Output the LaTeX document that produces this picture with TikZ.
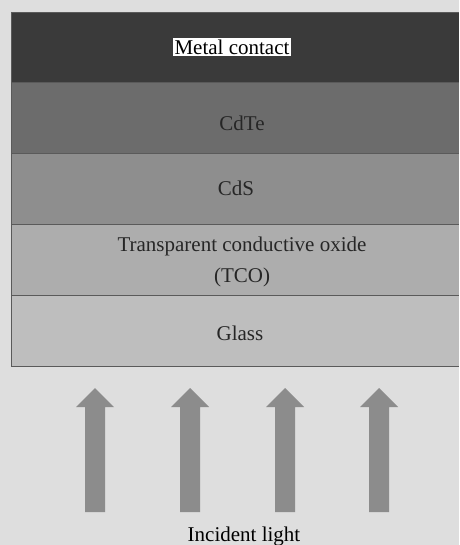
\documentclass[tikz,border=0pt]{standalone}
\usepackage{fontspec}
\setmainfont{Liberation Serif}
\usetikzlibrary{positioning}
\definecolor{bgGray}{HTML}{DEDEDE}
\definecolor{metalGray}{HTML}{3A3A3A}
\definecolor{cdteGray}{HTML}{6C6C6C}
\definecolor{cdsGray}{HTML}{8E8E8E}
\definecolor{tcoGray}{HTML}{ADADAD}
\definecolor{glassGray}{HTML}{BEBEBE}
\definecolor{lineGray}{HTML}{5A5A5A}
\definecolor{lightGray}{HTML}{8C8C8C}

\begin{document}
\begin{tikzpicture}[x=1pt, y=-1pt,
  layertext/.style={font=\fontsize{21}{31}\selectfont, text=black!85, inner sep=2pt}]
  \useasboundingbox[fill=bgGray] (0,0) rectangle (459,545);

  % 層の描画
  \foreach \top/\col in {12/metalGray, 82/cdteGray, 153/cdsGray, 224/tcoGray, 295/glassGray} {
    \fill[\col] (11,\top) rectangle (459,\top+71);
    \draw[lineGray, thin] (11,\top) -- (459,\top);
  }
  \draw[lineGray, thin] (11,366) -- (459,366);
  \draw[lineGray, thin] (11,12) -- (11,366);

  % ラベル
  \node[layertext, fill=white, text=black] (metal) at (232,47) {Metal contact};
  \node[layertext] (cdte) at (242,123) {CdTe};
  \node[layertext] (cds) at (236,188) {CdS};
  \node[layertext, align=center] (tco) at (242,262) {Transparent conductive oxide\\(TCO)};
  \node[layertext] (glass) at (240,333) {Glass};

  % 入射光の矢印
  \foreach \x in {95,190,285,379} {
    \fill[lightGray] (\x-10,512) -- (\x-10,407) -- (\x-19,407) -- (\x,388)
      -- (\x+19,407) -- (\x+10,407) -- (\x+10,512) -- cycle;
  }
  \node[layertext, text=black] (light) at (244,536) {Incident light};
\end{tikzpicture}
\end{document}
